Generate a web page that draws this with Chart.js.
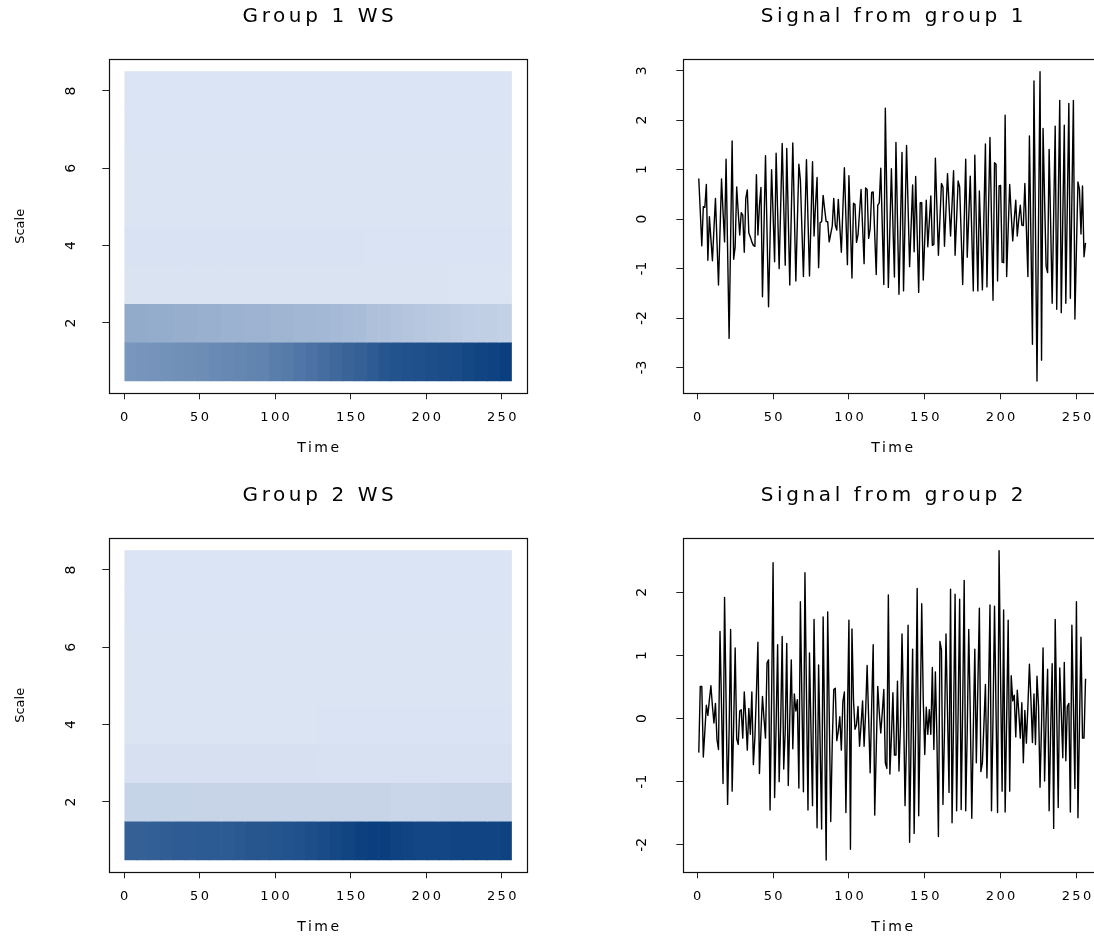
<!DOCTYPE html>
<html>
<head>
<meta charset="utf-8">
<script src="https://cdn.jsdelivr.net/npm/chart.js@4.4.0/dist/chart.umd.min.js"></script>
<style>
  html, body { margin: 0; padding: 0; background: #fff; }
  body { width: 1094px; height: 937px; overflow: hidden; position: relative; }
  canvas { position: absolute; }
</style>
</head>
<body>
<canvas id="ws1" width="547" height="479" style="left:0;top:0"></canvas>
<canvas id="sig1" width="560" height="479" style="left:547px;top:0"></canvas>
<canvas id="ws2" width="547" height="479" style="left:0;top:479px"></canvas>
<canvas id="sig2" width="560" height="479" style="left:547px;top:479px"></canvas>
<script>
// signals, one value per time step (1..256)
const signal1 = [
  0.82, 0.15, -0.54, 0.25, 0.24, 0.70, -0.83, 0.05, -0.4, -0.84, -0.2, 0.42, -0.45, -1.33, -0.25, 0.81,
  0.15, -0.46, 1.21, -0.6, -2.41, -0.4, 1.58, -0.81, -0.56, 0.65, 0.15, -0.32, 0.13, 0.08, -0.67, 0.42,
  0.59, -0.28, -0.36, -0.46, -0.53, -0.55, 0.9, -0.32, 0.28, 0.64, -1.57, -0.15, 1.28, -0.25, -1.77, -0.4,
  1.0, 0.1, -0.86, 1.33, 0.15, -1.0, 0.25, 1.53, 0.3, -0.93, 1.43, 0.05, -1.33, 0.1, 1.54, 0.15,
  -1.25, -0.05, 1.11, 0.79, -0.2, -1.16, 0.0, 1.2, 0.0, -1.15, 0.0, 1.16, -0.34, 0.3, 0.84, -0.98,
  -0.07, -0.05, 0.48, 0.2, -0.05, -0.05, -0.46, -0.3, -0.14, 0.42, -0.12, -0.22, 0.4, -0.15, -0.67, 0.2,
  1.04, 0.05, -0.92, 0.88, -0.15, -1.19, 0.32, 0.3, -0.47, -0.32, 0.15, 0.6, -0.15, -0.9, 0.63, 0.6,
  -0.39, -0.19, 0.54, 0.55, -0.3, -1.12, 0.28, 0.33, 1.03, -0.15, -1.32, 2.24, 0.4, -1.38, -0.2, 1.02,
  -0.1, -1.17, 1.55, 0.0, -1.52, -0.1, 1.35, -1.45, 0.0, 1.49, 0.25, -0.96, -0.15, 0.69, -0.66, 0.86,
  -0.3, -1.48, 0.33, 0.33, -1.23, -0.4, 0.38, -0.56, -0.05, 0.47, -0.53, -0.51, 1.23, 0.25, -0.73, 0.0,
  0.72, 0.65, -0.55, 0.2, 0.92, 0.3, -0.34, 0.3, 0.98, -0.73, 0.0, 0.77, 0.65, -0.3, -1.32, -0.05,
  1.21, -0.77, 0.05, 0.87, -0.3, -1.45, 1.29, -0.1, -1.45, 0.57, -0.4, -1.43, 0.05, 1.52, -1.37, 0.15,
  1.65, 0.0, -1.64, 1.14, 1.11, -1.25, 0.67, 0.68, -0.87, -0.88, 2.1, -1.16, -0.2, 0.7, 0.1, -0.44,
  0.0, 0.38, -0.34, 0.0, 0.28, -0.12, -0.13, 0.72, -0.2, -1.16, 1.68, -0.4, -2.53, 2.79, -0.2, -3.27,
  -0.1, 2.98, -2.85, 1.83, 0.4, -0.95, -1.08, 1.41, -0.1, -1.7, 0.1, 1.88, -1.82, 0.3, 2.4, -1.89,
  0.0, 1.9, -1.7, 0.3, 2.34, -1.6, 0.4, 2.4, -2.02, -0.6, 0.75, 0.6, -0.3, 0.67, -0.76, -0.48
];
const signal2 = [
  -0.54, 0.51, 0.51, -0.61, -0.2, 0.21, 0.05, 0.3, 0.52, 0.2, -0.07, 0.24, -0.33, -0.49, 1.38, 0.2,
  -1.03, 1.92, 0.3, -1.36, -0.2, 1.41, -1.15, -0.1, 1.12, -0.32, -0.41, 0.12, 0.14, -0.31, 0.42, 0.0,
  -0.5, 0.16, -0.25, 0.42, -0.73, -0.3, 0.4, 1.21, -0.87, -0.2, 0.35, 0.0, -0.31, 0.88, 0.93, -1.45,
  0.3, 2.47, -1.25, -0.1, 1.17, -1.0, -0.1, 1.3, -0.8, -0.2, 1.19, -1.06, 0.0, 0.93, -0.48, 0.39,
  0.12, 0.3, -1.1, 1.85, 0.3, -1.16, 2.31, 0.4, -1.45, 1.04, -0.2, -1.38, 1.57, 0.0, -1.73, 0.85,
  -0.4, -1.75, 1.61, -0.2, -2.24, 1.69, 0.1, -1.63, -0.4, 0.46, 0.48, -0.35, -0.2, 0.03, -0.5, 0.27,
  0.42, -1.49, 0.0, 1.56, -2.07, 1.42, 0.3, -0.17, -0.1, 0.19, -0.44, -0.1, 0.28, -0.44, 0.1, 0.84,
  0.0, -0.86, 0.2, 1.17, -1.53, -0.5, 0.51, 0.1, -0.23, 0.1, 0.46, -0.7, -0.79, 1.96, -0.88, -0.3,
  0.41, -0.58, -0.58, 0.59, -0.83, -0.1, 1.34, 0.2, -1.38, -0.3, 1.48, -1.96, -0.3, 1.1, -1.82, -0.1,
  2.06, -1.54, 0.0, 1.82, 0.3, -0.57, 0.18, -0.25, 0.14, -0.25, 0.81, -0.49, 0.74, -0.3, -1.87, 1.22,
  1.09, -1.36, -0.2, 1.34, 0.1, -1.17, 2.05, -1.65, 0.0, 1.97, -1.46, 0.1, 1.89, -1.44, 0.2, 2.19,
  -1.46, -0.2, 1.41, 0.1, -1.58, -0.2, 1.1, -0.7, 0.5, 1.75, -0.84, -0.7, -0.1, 0.54, -0.94, 0.3,
  1.8, -1.46, 0.0, 1.78, 0.1, -1.49, 2.66, 0.6, -1.15, 1.72, -1.48, 0.0, 1.56, -1.15, 0.68, 0.28,
  0.37, -0.29, 0.45, 0.1, -0.31, 0.25, -0.7, 0.13, -0.39, 0.2, 0.86, 0.3, -0.38, 0.39, -0.41, 0.67,
  0.2, -1.09, -0.1, 1.12, -0.99, 0.0, 0.78, -1.46, -0.2, 0.87, -1.74, 1.57, 0.1, -1.41, 0.8, 0.1,
  -0.62, 0.89, -0.67, 0.19, 0.24, -1.48, 1.48, 0.2, -1.11, 1.85, -1.57, -0.1, 1.29, -0.31, -0.31, 0.63
];

// wavelet spectrum intensity (0 = lightest, 1 = darkest); each row split evenly over time 0.5..256.5
const ws1Scale1 = [0.47, 0.48, 0.49, 0.50, 0.51, 0.52, 0.53, 0.55, 0.56, 0.57, 0.58, 0.59, 0.62, 0.64, 0.67, 0.69,
                   0.72, 0.75, 0.78, 0.80, 0.83, 0.86, 0.88, 0.89, 0.90, 0.91, 0.92, 0.93, 0.95, 0.97, 0.98, 1.0];
const ws1Scale2 = [0.35, 0.35, 0.34, 0.34, 0.33, 0.33, 0.32, 0.32, 0.31, 0.31, 0.30, 0.30, 0.29, 0.29, 0.28, 0.28,
                   0.27, 0.26, 0.25, 0.24, 0.22, 0.21, 0.20, 0.19, 0.18, 0.17, 0.16, 0.15, 0.14, 0.13, 0.13, 0.12];
const ws1Scale3 = [0.015, 0.015, 0.015, 0.015, 0.015, 0.008];
const ws1Scale4 = [0.02, 0.02, 0.02, 0.02, 0.02, 0.01, 0.01, 0.01];
const ws1Upper = [0.006, 0.005, 0.004, 0.004];   // scales 5..8

const ws2Scale1 = [0.80, 0.80, 0.81, 0.82, 0.83, 0.83, 0.84, 0.84, 0.84, 0.85, 0.86, 0.86, 0.87, 0.88, 0.89, 0.91,
                   0.93, 0.95, 0.97, 0.99, 1.0, 1.0, 0.98, 0.97, 0.96, 0.96, 0.96, 0.97, 0.97, 0.97, 0.97, 0.98];
const ws2Scale2 = [0.105, 0.105, 0.105, 0.10, 0.10, 0.10, 0.10, 0.10, 0.10, 0.10, 0.10, 0.09, 0.09, 0.095, 0.095, 0.095];
const ws2Scale3 = [0.03, 0.03, 0.025, 0.025];
const ws2Scale4 = [0.008, 0.012];
const ws2Upper = [0.006, 0.005, 0.004, 0.004];

const time = signal1.map((_, i) => i + 1);
const lightBlue = [220, 229, 244];
const darkBlue = [10, 63, 127];

const CANVAS_H = 479;
const PLOT_TOP = 59.3;
const PLOT_BOTTOM = 393.3;

Chart.defaults.font.family = "'DejaVu Sans', sans-serif";
Chart.defaults.color = '#000';

function wsColour(v) {
  return 'rgb(' + lightBlue.map((c, i) => Math.round(c + (darkBlue[i] - c) * v)).join(',') + ')';
}

function heatCells(rows) {
  const data = [], colours = [];
  rows.forEach((row, s) => {
    const w = 256 / row.length;
    row.forEach((v, i) => {
      data.push({y: s + 1, x: [0.5 + i * w, 0.5 + (i + 1) * w]});
      colours.push(wsColour(v));
    });
  });
  return {data, colours};
}

// R pads the data range by 4% on each side
function padded(lo, hi) {
  const d = (hi - lo) * 0.04;
  return [lo - d, hi + d];
}

// the R picture is stretched sideways: spread horizontal text a bit
const rText = {
  id: 'rText',
  beforeInit(chart) {
    const ctx = chart.ctx;
    const fill = ctx.fillText;
    ctx.fillText = function (text, x, y, maxWidth) {
      const m = ctx.getTransform();
      const size = parseFloat((ctx.font.match(/([\d.]+)px/) || [0, 12])[1]);
      const sp = Math.abs(m.b) > 0.5 ? 0 : size * 0.18;
      ctx.letterSpacing = sp + 'px';
      if (ctx.textAlign === 'center') x += sp / 2;
      if (maxWidth === undefined) fill.call(ctx, text, x, y);
      else fill.call(ctx, text, x, y, maxWidth);
      ctx.letterSpacing = '0px';
    };
  }
};

const plotBox = {
  id: 'plotBox',
  afterDraw(chart) {
    const {ctx, chartArea: a} = chart;
    ctx.save();
    ctx.strokeStyle = '#111';
    ctx.lineWidth = 1.2;
    ctx.strokeRect(Math.round(a.left) + 0.5, Math.round(a.top) + 0.5,
      Math.round(a.right - a.left), Math.round(a.bottom - a.top));
    ctx.restore();
  }
};

function options(p) {
  return {
    responsive: false,
    animation: false,
    indexAxis: p.indexAxis || 'x',
    layout: {padding: {left: 0, right: p.padRight, top: 0, bottom: 0}},
    plugins: {
      legend: {display: false},
      tooltip: {enabled: false},
      title: {
        display: true, text: p.title, fullSize: false, color: '#000',
        font: {size: 20, weight: 'normal'},
        padding: {top: 4.7, bottom: PLOT_TOP - 24 - 4.7}
      }
    },
    scales: {
      x: {
        type: 'linear', min: p.xRange[0], max: p.xRange[1], offset: false,
        afterFit: s => { s.height = CANVAS_H - PLOT_BOTTOM; },
        border: {display: false},
        grid: {drawOnChartArea: false, drawTicks: true, tickLength: 6, tickColor: '#222', offset: false},
        ticks: {stepSize: 50, includeBounds: false, padding: 10.5, maxRotation: 0, autoSkip: false, font: {size: 13}, color: '#000'},
        title: {display: true, text: 'Time', color: '#000', font: {size: 14}, padding: {top: 0, bottom: 21.9}}
      },
      y: {
        type: 'linear', min: p.yRange[0], max: p.yRange[1], offset: false,
        afterFit: s => { s.width = p.yWidth; },
        border: {display: false},
        grid: {drawOnChartArea: false, drawTicks: true, tickLength: 7, tickColor: '#222', offset: false},
        ticks: {stepSize: p.yStep, includeBounds: false, padding: 26.5, crossAlign: 'center',
                minRotation: 90, maxRotation: 90, font: {size: 14}, color: '#000'},
        title: {display: !!p.yTitle, text: p.yTitle || '', color: '#000', font: {size: 13}, padding: {top: 12.9, bottom: 0}}
      }
    }
  };
}

function heatmap(id, title, rows) {
  const cells = heatCells(rows);
  new Chart(document.getElementById(id), {
    type: 'bar',
    data: {
      datasets: [{
        data: cells.data,
        backgroundColor: cells.colours,
        borderWidth: 0,
        barPercentage: 1,
        categoryPercentage: 1,
        grouped: false
      }]
    },
    options: options({
      title, indexAxis: 'y', padRight: 20, yWidth: 109.3, yStep: 2, yTitle: 'Scale',
      xRange: padded(0.5, 256.5), yRange: padded(0.5, 8.5)
    }),
    plugins: [rText, plotBox]
  });
}

function signalPlot(id, title, values) {
  new Chart(document.getElementById(id), {
    type: 'line',
    data: {
      datasets: [{
        data: time.map((t, i) => ({x: t, y: values[i]})),
        borderColor: '#000',
        borderWidth: 1.4,
        borderJoinStyle: 'round',
        pointRadius: 0,
        tension: 0,
        fill: false
      }]
    },
    options: options({
      title, padRight: 6, yWidth: 136.3, yStep: 1,
      xRange: padded(1, 256), yRange: padded(Math.min(...values), Math.max(...values))
    }),
    plugins: [rText, plotBox]
  });
}

heatmap('ws1', 'Group 1 WS', [ws1Scale1, ws1Scale2, ws1Scale3, ws1Scale4, ...ws1Upper.map(v => [v])]);
heatmap('ws2', 'Group 2 WS', [ws2Scale1, ws2Scale2, ws2Scale3, ws2Scale4, ...ws2Upper.map(v => [v])]);
signalPlot('sig1', 'Signal from group 1', signal1);
signalPlot('sig2', 'Signal from group 2', signal2);
</script>
</body>
</html>
